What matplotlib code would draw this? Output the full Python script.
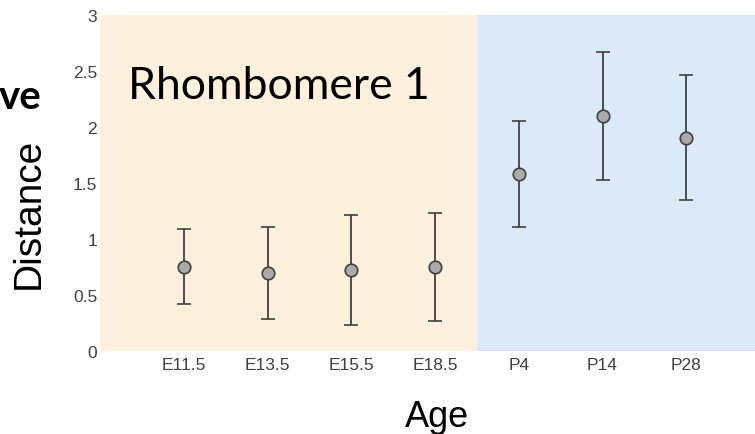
import numpy as np
import matplotlib.pyplot as plt

# ages and distance values (mean with error bar ends)
ages = ["E11.5", "E13.5", "E15.5", "E18.5", "P4", "P14", "P28"]
means = [0.75, 0.70, 0.72, 0.75, 1.58, 2.10, 1.90]
upper = [1.09, 1.11, 1.21, 1.23, 2.05, 2.67, 2.46]
lower = [0.42, 0.29, 0.23, 0.27, 1.11, 1.53, 1.35]

x = np.arange(1, len(ages) + 1)
err = [np.array(means) - np.array(lower), np.array(upper) - np.array(means)]

fig = plt.figure(figsize=(7.55, 4.35), dpi=100)
ax = fig.add_axes([100 / 755, 83 / 435, 655 / 755, 336 / 435])

# embryonic vs postnatal background
ax.axvspan(0, 4.5, color="#FDF0DC", lw=0, zorder=0)
ax.axvspan(4.5, 8, color="#DCE9F8", lw=0, zorder=0)

ax.errorbar(x, means, yerr=err, fmt="o", color="#404040", ecolor="#404040",
            elinewidth=1.3, capsize=5, capthick=1.3,
            markerfacecolor="#ABABAB", markeredgecolor="#404040",
            markersize=9, markeredgewidth=1.2, zorder=3)

ax.set_xlim(0, 7.82)
ax.set_ylim(0, 3)
ax.set_xticks(x)
ax.set_xticklabels(ages)
ax.set_yticks([0, 0.5, 1, 1.5, 2, 2.5, 3])
ax.set_yticklabels(["0", "0.5", "1", "1.5", "2", "2.5", "3"])
ax.tick_params(axis="x", length=0, labelsize=12.5, labelcolor="#404040", pad=4)
ax.tick_params(axis="y", length=0, labelsize=12.5, labelcolor="#404040", pad=2)
for lab in ax.get_xticklabels() + ax.get_yticklabels():
    lab.set_family("Liberation Sans")
for s in ax.spines.values():
    s.set_visible(False)

ax.text(0.33, 2.26, "Rhombomere 1", fontsize=32, family="Lato", va="baseline")

fig.text(29 / 755, 222 / 435, "Distance", rotation=90, fontsize=28,
         family="Liberation Sans", ha="center", va="center")
fig.text(437 / 755, 8 / 435, "Age", fontsize=26, family="Liberation Sans",
         ha="center", va="baseline")
fig.text(42 / 755, 326 / 435, "ve", fontsize=29, fontweight="bold", family="Lato",
         ha="right", va="baseline")

fig.savefig("out.png", dpi=100)
